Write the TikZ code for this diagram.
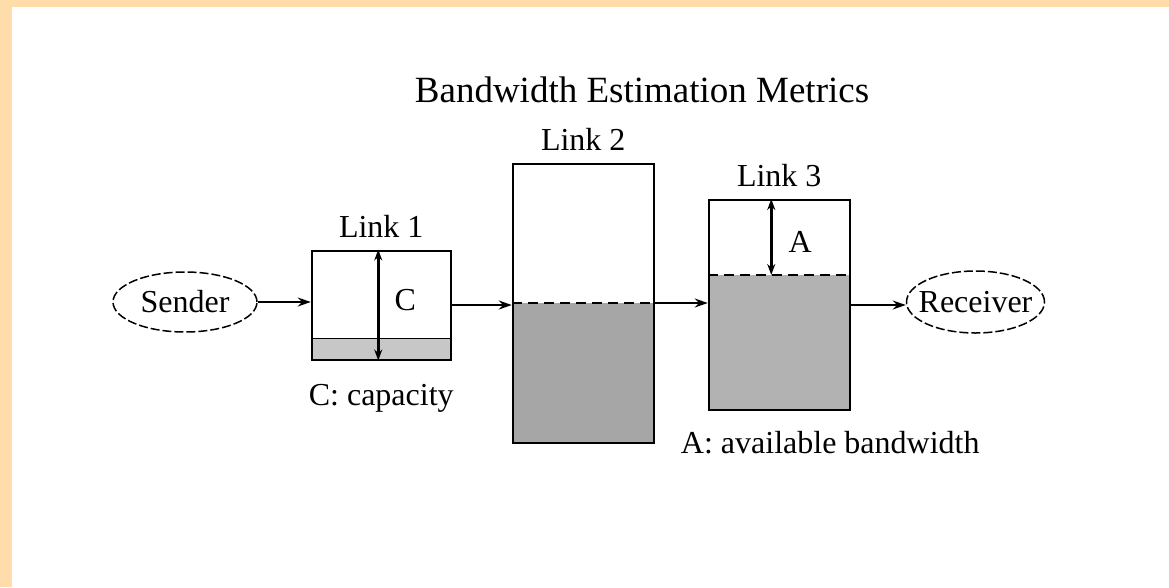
\documentclass[tikz,border=0pt]{standalone}
\usepackage{fontspec}
\setmainfont{Liberation Serif}
\usepackage{xcolor}
\usetikzlibrary{shapes,arrows.meta,positioning,backgrounds}
\definecolor{framecol}{RGB}{255,221,170}
\newcommand{\lblfont}{\fontsize{32}{36}\selectfont}
\newcommand{\titlefont}{\fontsize{37}{42}\selectfont}

\begin{document}
\begin{tikzpicture}[
    x=1pt, y=-1pt,
    linkbox/.style={draw, line width=2pt, inner sep=0pt},
    hostnode/.style={draw, ellipse, dash pattern=on 9pt off 3pt, line width=1.5pt, minimum width=144pt, minimum height=60pt, inner sep=0pt, font=\lblfont},
    boxlabel/.style={inner sep=0pt, font=\lblfont},
    arrow/.style={-{Stealth[length=13pt,width=9pt]}, line width=1.5pt},
    dimarrow/.style={{Stealth[length=11pt,width=8pt]}-{Stealth[length=11pt,width=8pt]}, line width=2.5pt},
    fillline/.style={dash pattern=on 10pt off 6pt, line width=1.5pt}
]
    \useasboundingbox (0,0) rectangle (1169,587);

    % Titel
    \node[font=\titlefont, inner sep=0pt] (title) at (642,90) {Bandwidth Estimation Metrics};

    % Endpunkte und Links
    \node[hostnode] (sender) at (185,302) {Sender};
    \node[linkbox, minimum width=139pt, minimum height=109pt, right=53pt of sender, yshift=-3pt] (link1) {};
    \node[linkbox, minimum width=141pt, minimum height=279pt, right=60pt of link1, yshift=2pt] (link2) {};
    \node[linkbox, minimum width=141pt, minimum height=210pt, right=53pt of link2, yshift=-2pt] (link3) {};
    \node[hostnode, inner xsep=-9pt, minimum width=138pt, minimum height=62pt, right=55pt of link3, yshift=3pt] (receiver) {Receiver};

    % Beschriftungen
    \node[boxlabel, above=12pt of link1] (link1lbl) {Link 1};
    \node[boxlabel, above=12pt of link2] (link2lbl) {Link 2};
    \node[boxlabel, above=12pt of link3] (link3lbl) {Link 3};
    \node[boxlabel] (clbl) at ([xshift=24pt,yshift=5pt]link1.center) {C};
    \node[boxlabel] (albl) at ([xshift=21pt,yshift=-43pt]link3.north) {A};
    \node[boxlabel, below=24pt of link1] (caplbl) {C: capacity};
    \node[boxlabel, anchor=north west] (availlbl) at ([xshift=-27pt,yshift=-20pt]link3.south west) {A: available bandwidth};

    % Auslastung
    \begin{scope}[on background layer]
        \fill[framecol] (0,0) rectangle (1169,7);
        \fill[framecol] (0,0) rectangle (12,587);
        \fill[black!22] ([yshift=22pt]link1.south west) rectangle (link1.south east);
        \fill[black!35] (link2.west) rectangle (link2.south east);
        \fill[black!30] ([yshift=-76pt]link3.north west) rectangle (link3.south east);
    \end{scope}
    \draw[line width=1pt] ([yshift=22pt]link1.south west) -- ([yshift=22pt]link1.south east);
    \draw[fillline] (link2.west) -- (link2.east);
    \draw[fillline] ([yshift=-76pt]link3.north west) -- ([yshift=-76pt]link3.north east);

    % Kapazitaet / verfuegbare Bandbreite
    \draw[dimarrow] ([xshift=-3pt]link1.north) -- ([xshift=-3pt]link1.south);
    \draw[dimarrow] ([xshift=-8pt]link3.north) -- ([xshift=-8pt,yshift=-76pt]link3.north);

    % Pfeile
    \draw[arrow] (sender) -- (sender -| link1.west);
    \draw[arrow, line width=2pt] (link1.east) -- (link1.east -| link2.west);
    \draw[arrow] (link2.east) -- (link2.east -| link3.west);
    \draw[arrow] (link3.east) -- (link3.east -| receiver.west);

\end{tikzpicture}
\end{document}
